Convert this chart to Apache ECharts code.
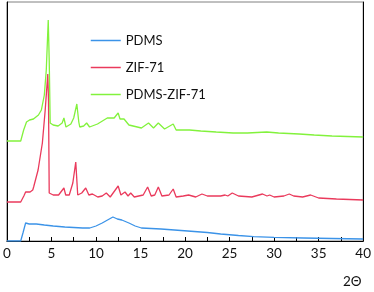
<!DOCTYPE html>
<html>
<head>
<meta charset="utf-8">
<script src="https://cdn.jsdelivr.net/npm/echarts@6/dist/echarts.min.js"></script>
<style>html,body{margin:0;padding:0;background:#fff}#c{width:374px;height:292px}</style>
</head>
<body>
<div id="c"></div>
<script>
var seriesNames = ['PDMS', 'ZIF-71', 'PDMS-ZIF-71'];
var xTicks = [0, 5, 10, 15, 20, 25, 30, 35, 40];

var pdms = [[0,0],[1.55,0],[1.8,8],[2.1,18],[2.5,17],[3.3,17],[4.2,16],[5.2,15],[6.5,14],[8.5,13],[9.3,13],[10.0,15],[10.7,18],[11.3,21],[11.9,24],[12.4,22],[12.9,21],[13.7,18],[14.4,15],[15.1,13],[16.2,12.5],[17.3,12],[18.8,11],[20.3,10],[22.5,8.5],[24.0,7],[26.0,5.5],[27.7,4.3],[30.0,3.6],[33.3,3],[36.5,2.5],[40,2]];

var zif = [[0,39],[1.55,39],[1.9,45],[2.1,49],[2.6,49],[2.9,51],[3.0,54],[3.5,71],[3.98,98],[4.3,131],[4.59,167],[4.67,140],[4.75,48],[5.2,46],[5.8,46],[6.4,53],[6.6,46],[7.0,46],[7.4,58],[7.73,79],[7.95,46],[8.4,48],[8.85,53],[9.2,46],[9.6,47],[10.2,44],[10.7,45],[11.16,48],[11.6,44],[12.49,55],[12.8,46],[13.26,49],[13.6,45],[13.9,48],[14.3,44],[15.3,46],[15.8,54],[16.2,45],[16.6,46],[17.0,54],[17.4,45],[18.2,46],[18.67,52],[19.0,44],[19.8,45],[20.4,46],[21.2,44],[21.9,47],[22.5,45],[24.0,45],[24.5,46],[24.8,45],[25.3,48],[26.0,45],[27.5,44],[28.7,47],[29.2,45],[29.5,46],[30.0,44],[31.1,45],[31.7,47],[32.2,45],[33.2,44],[34.1,46],[35.0,43],[37.0,42],[40,41]];

var pdmsZif = [[0,100],[1.55,100],[1.88,111],[2.2,119],[2.54,121],[2.98,122],[3.54,126],[3.87,131],[4.2,146],[4.42,171],[4.64,221],[4.75,181],[4.86,118],[5.19,116],[5.75,115],[6.2,118],[6.4,123],[6.63,114],[7.18,117],[7.5,123],[7.85,137],[8.07,119],[8.18,114],[8.62,115],[8.95,118],[9.28,114],[10.17,117],[11.27,123],[12.04,123],[12.49,128],[12.7,122],[13.15,122],[13.7,116],[15.1,113],[15.9,118],[16.46,113],[17.0,118],[17.7,112],[18.67,117],[19.0,111],[20.5,111],[21.77,110],[23.5,109],[25.4,108],[27.0,108],[29.17,109],[30.5,108],[32.8,107],[34.5,106],[36.5,105],[40,104]];

var colors = ['#3b93e8', '#ea3a5c', '#82f23c'];
var font = 'Lato, "Liberation Sans", sans-serif';

var chart = echarts.init(document.getElementById('c'), null, {renderer: 'canvas'});
chart.setOption({
  animation: false,
  backgroundColor: '#fff',
  grid: {left: 3, right: 9, top: 2, bottom: 51, show: true, borderColor: '#808080', borderWidth: 1},
  legend: {
    orient: 'vertical', left: 85, top: 29, itemWidth: 30, itemHeight: 14, itemGap: 14,
    data: seriesNames,
    itemStyle: {opacity: 0},
    lineStyle: {width: 1.5},
    textStyle: {fontFamily: font, fontSize: 13, color: '#111'}
  },
  xAxis: {
    type: 'value', min: xTicks[0], max: xTicks[xTicks.length - 1], interval: 2.5,
    axisLine: {show: true, lineStyle: {color: '#000', width: 1}},
    axisTick: {show: true, inside: true, length: 4, lineStyle: {color: '#000'}},
    splitLine: {show: false},
    axisLabel: {
      fontFamily: font, fontSize: 13.5, color: '#111', margin: 6,
      formatter: function (v) { return xTicks.indexOf(v) >= 0 ? String(v) : ''; }
    }
  },
  yAxis: [
    {type: 'value', min: 0, max: 239, axisLine: {show: true, lineStyle: {color: '#000'}}, axisTick: {show: false}, axisLabel: {show: false}, splitLine: {show: false}},
    {type: 'value', min: 0, max: 239, position: 'right', axisLine: {show: true, lineStyle: {color: '#000'}}, axisTick: {show: false}, axisLabel: {show: false}, splitLine: {show: false}}
  ],
  graphic: [{type: 'text', left: 343, top: 275, style: {text: '2Θ', font: '13.5px ' + font, fill: '#111'}}],
  series: [
    {name: seriesNames[0], type: 'line', data: pdms, symbol: 'none', lineStyle: {color: colors[0], width: 1.3}, itemStyle: {color: colors[0]}},
    {name: seriesNames[1], type: 'line', data: zif, symbol: 'none', lineStyle: {color: colors[1], width: 1.3}, itemStyle: {color: colors[1]}},
    {name: seriesNames[2], type: 'line', data: pdmsZif, symbol: 'none', lineStyle: {color: colors[2], width: 1.3}, itemStyle: {color: colors[2]}}
  ]
});
</script>
</body>
</html>
